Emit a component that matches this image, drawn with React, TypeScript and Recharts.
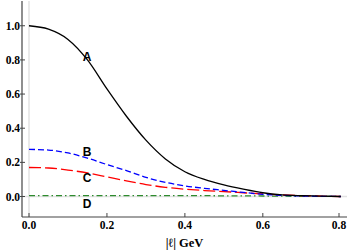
import React from 'react';
import {
  LineChart,
  Line,
  XAxis,
  YAxis,
  ReferenceLine,
  ReferenceDot,
} from 'recharts';

// momentum |l| in GeV
const momenta = [0, 0.05, 0.1, 0.15, 0.2, 0.25, 0.3, 0.35, 0.4, 0.45, 0.5, 0.55, 0.6, 0.65, 0.7, 0.75, 0.8];
const curveA = [1.0, 0.98, 0.92, 0.8, 0.63, 0.47, 0.33, 0.22, 0.145, 0.1, 0.068, 0.043, 0.022, 0.01, 0.005, 0.002, 0.0];
const curveB = [0.276, 0.272, 0.255, 0.225, 0.187, 0.152, 0.112, 0.083, 0.062, 0.048, 0.036, 0.024, 0.013, 0.007, 0.003, 0.001, 0.0];
const curveC = [0.17, 0.167, 0.155, 0.138, 0.115, 0.092, 0.07, 0.054, 0.043, 0.035, 0.029, 0.022, 0.015, 0.009, 0.005, 0.002, 0.0];
const curveD = [0.005, 0.005, 0.005, 0.005, 0.005, 0.005, 0.005, 0.005, 0.005, 0.005, 0.004, 0.004, 0.003, 0.002, 0.001, 0.001, 0.0];

const xTicks = [0, 0.2, 0.4, 0.6, 0.8];
const yTicks = [0, 0.2, 0.4, 0.6, 0.8, 1.0];

// curve names and where they sit on the plot
const labelNames = ['A', 'B', 'C', 'D'];
const labelX = [0.149, 0.149, 0.149, 0.149];
const labelY = [0.816, 0.26, 0.11, -0.04];

const data = momenta.map((x, i) => ({
  x,
  A: curveA[i],
  B: curveB[i],
  C: curveC[i],
  D: curveD[i],
}));

const frame = '#444';
const tickFont = { fontFamily: '"Liberation Serif", serif', fontWeight: 'bold', fontSize: 11.5, fill: '#000' };

function XTick({ x, y, payload }: any) {
  return (
    <g>
      <line x1={x} x2={x} y1={y} y2={y - 4} stroke={frame} />
      <text x={x} y={y + 12} textAnchor="middle" {...tickFont}>
        {payload.value.toFixed(1)}
      </text>
    </g>
  );
}

function YTick({ x, y, payload }: any) {
  return (
    <g>
      <line x1={x - 2} x2={x + 3} y1={y} y2={y} stroke={frame} />
      <text x={x - 2} y={y} dy="0.35em" textAnchor="end" {...tickFont}>
        {payload.value.toFixed(1)}
      </text>
    </g>
  );
}

export default function App() {
  return (
    <div style={{ position: 'absolute', left: 0, top: 0 }}>
      <LineChart width={349} height={250} data={data} margin={{ top: 1, right: 2, bottom: 0, left: 0 }}>
        <XAxis
          dataKey="x"
          type="number"
          domain={[-0.018, 0.816]}
          ticks={xTicks}
          allowDataOverflow
          height={33}
          tickLine={false}
          tickSize={0}
          tickMargin={0}
          tick={<XTick />}
          axisLine={{ stroke: frame, strokeWidth: 1.2 }}
          label={{
            value: '|ℓ| GeV',
            position: 'insideBottom',
            offset: 3,
            style: { fontFamily: '"Liberation Serif", serif', fontWeight: 'bold', fontSize: 12.5, fill: '#000' },
          }}
        />
        <XAxis xAxisId="top" orientation="top" type="number" domain={[-0.018, 0.816]} height={0} tick={false} tickLine={false} axisLine={{ stroke: frame, strokeWidth: 1.2 }} />
        <YAxis
          type="number"
          domain={[-0.12, 1.145]}
          ticks={yTicks}
          allowDataOverflow
          width={22}
          tickLine={false}
          tickSize={0}
          tickMargin={0}
          tick={<YTick />}
          axisLine={{ stroke: frame, strokeWidth: 1.2 }}
        />
        <YAxis yAxisId="right" orientation="right" type="number" domain={[-0.12, 1.145]} width={0} tick={false} tickLine={false} axisLine={{ stroke: frame, strokeWidth: 1.2 }} />
        <ReferenceLine x={0} stroke="#e2e2e2" strokeWidth={1.5} />
        <ReferenceLine y={0} stroke="#e2e2e2" strokeWidth={1.5} />
        <Line dataKey="D" type="monotone" stroke="#2e8b2e" strokeWidth={1.3} strokeDasharray="6 3 1.5 3" dot={false} isAnimationActive={false} />
        <Line dataKey="C" type="monotone" stroke="#ff0000" strokeWidth={1.3} strokeDasharray="12 4" dot={false} isAnimationActive={false} />
        <Line dataKey="B" type="monotone" stroke="#0000ff" strokeWidth={1.3} strokeDasharray="6 3" dot={false} isAnimationActive={false} />
        <Line dataKey="A" type="monotone" stroke="#000" strokeWidth={1.3} dot={false} isAnimationActive={false} />
        {labelNames.map((name, i) => (
          <ReferenceDot
            key={name}
            x={labelX[i]}
            y={labelY[i]}
            r={0}
            fill="none"
            stroke="none"
            label={{
              value: name,
              position: 'center',
              style: { fontFamily: '"Liberation Sans", Arial, sans-serif', fontWeight: 'bold', fontSize: 12, fill: '#000' },
            }}
          />
        ))}
      </LineChart>
    </div>
  );
}
